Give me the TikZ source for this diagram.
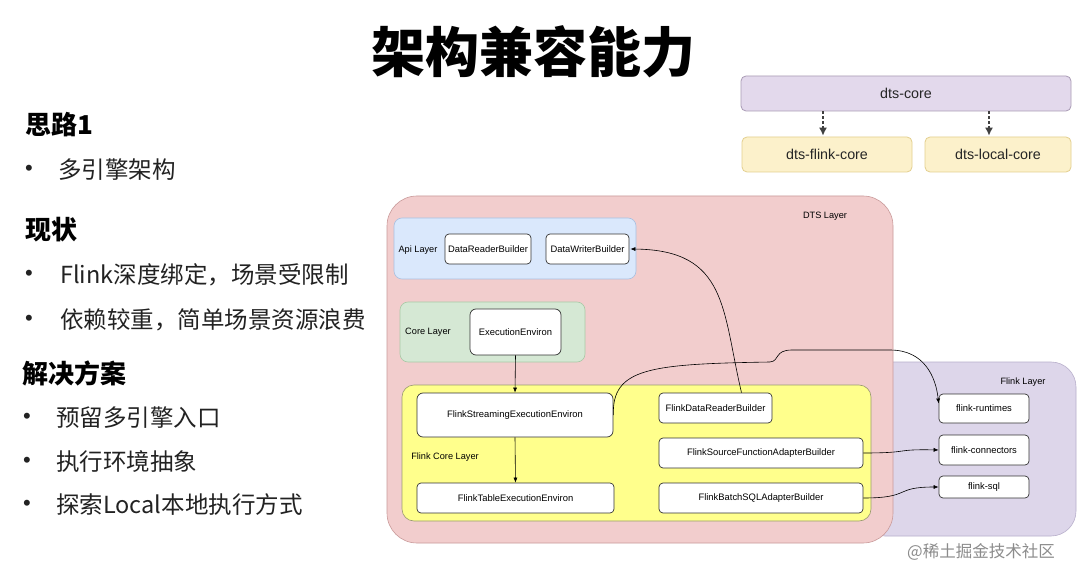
\documentclass[tikz,border=0pt]{standalone}
\usepackage{fontspec}
\setmainfont{Liberation Sans}
\newfontfamily\cjk{Noto Sans CJK SC}
\usetikzlibrary{arrows.meta}
\definecolor{dtsfill}{HTML}{F2CDCD}
\definecolor{dtsdraw}{HTML}{C99A9A}
\definecolor{flfill}{HTML}{DDD6EA}
\definecolor{fldraw}{HTML}{B8AFCB}
\definecolor{apifill}{HTML}{DAE8FC}
\definecolor{apidraw}{HTML}{A9C0E0}
\definecolor{corefill}{HTML}{D5E8D4}
\definecolor{coredraw}{HTML}{A9C9A6}
\definecolor{fcfill}{HTML}{FFFF8C}
\definecolor{fcdraw}{HTML}{9A9A70}
\definecolor{topfill}{HTML}{E3D9EC}
\definecolor{topdraw}{HTML}{A99BB5}
\definecolor{ylfill}{HTML}{FCF1CB}
\definecolor{yldraw}{HTML}{E3CF8F}
\definecolor{txt}{HTML}{222222}
\tikzset{
  layer/.style={draw, line width=0.6pt, inner sep=0pt},
  wbox/.style={draw=black!80, fill=white, line width=0.7pt, rounded corners=4pt, inner sep=0pt, font=\fontsize{9.4}{11}\selectfont},
  lbl/.style={inner sep=0pt, font=\fontsize{9.2}{11}\selectfont},
  topbox/.style={draw=topdraw, fill=topfill, line width=0.8pt, rounded corners=5pt, inner sep=0pt, font=\fontsize{14.3}{16}\selectfont, text=black!85},
  ybox/.style={draw=yldraw, fill=ylfill, line width=0.8pt, rounded corners=5pt, inner sep=0pt, font=\fontsize{14.3}{16}\selectfont, text=black!85},
  conn/.style={line width=0.6pt, -{Latex[length=5pt,width=4pt]}},
  dconn/.style={line width=1.3pt, draw=black!75, dash pattern=on 3pt off 2pt, -{Latex[length=8pt,width=8pt]}},
  heading/.style={anchor=west, inner sep=0pt, font=\cjk\bfseries\fontsize{26}{30}\selectfont, text=black},
  bul/.style={anchor=west, inner sep=0pt, font=\cjk\fontsize{23.5}{28}\selectfont, text=txt},
  dot/.style={inner sep=0pt, font=\fontsize{22}{24}\selectfont, text=txt},
}
\begin{document}
\begin{tikzpicture}[x=1pt,y=-1pt]
\useasboundingbox[fill=white] (0,0) rectangle (1080,580);

% title
\node[inner sep=0pt, font=\cjk\bfseries\fontsize{54}{60}\selectfont] (title) at (533,52) {架构兼容能力};

% left text
\node[heading] (h1) at (25,125) {思路1};
\node[dot] (d1) at (29,170) {•};
\node[bul] (t1) at (58,170) {多引擎架构};
\node[heading] (h2) at (25,230) {现状};
\node[dot] (d2) at (29,275) {•};
\node[bul] (t2) at (60,275) {Flink深度绑定，场景受限制};
\node[dot] (d3) at (29,320) {•};
\node[bul] (t3) at (60,320) {依赖较重，简单场景资源浪费};
\node[heading] (h3) at (22,373) {解决方案};
\node[dot] (d4) at (27,418) {•};
\node[bul] (t4) at (56,418) {预留多引擎入口};
\node[dot] (d5) at (27,462) {•};
\node[bul] (t5) at (56,462) {执行环境抽象};
\node[dot] (d6) at (27,505) {•};
\node[bul] (t6) at (56,505) {探索Local本地执行方式};

% top right
\node[topbox, minimum width=330pt, minimum height=35pt] (dtscore) at (906,93.5) {dts-core};
\node[ybox, minimum width=170pt, minimum height=35pt] (dtsflink) at (827,154.5) {dts-flink-core};
\node[ybox, minimum width=146pt, minimum height=35pt] (dtslocal) at (998,154.5) {dts-local-core};
\draw[dconn] ([xshift=-4pt]dtsflink.north |- dtscore.south) -- ([xshift=-4pt,yshift=1pt]dtsflink.north);
\draw[dconn] ([xshift=-9pt]dtslocal.north |- dtscore.south) -- ([xshift=-9pt,yshift=1pt]dtslocal.north);

% layers
\node[layer, draw=fldraw, fill=flfill, rounded corners=25pt, minimum width=216pt, minimum height=174pt] (fl) at (968,449) {};
\node[layer, draw=dtsdraw, fill=dtsfill, rounded corners=30pt, minimum width=506pt, minimum height=347pt] (dts) at (640,369.5) {};
\node[lbl] (dtsl) at (825,216) {DTS Layer};
\node[lbl] (fll) at (1023,382) {Flink Layer};

\node[layer, draw=apidraw, fill=apifill, rounded corners=8pt, minimum width=242pt, minimum height=61pt] (api) at (515,248.5) {};
\node[lbl] (apil) at (418,250) {Api Layer};
\node[wbox, minimum width=86pt, minimum height=30pt] (drb) at (488,249) {DataReaderBuilder};
\node[wbox, minimum width=83pt, minimum height=30pt] (dwb) at (587.5,249) {DataWriterBuilder};

\node[layer, draw=coredraw, fill=corefill, rounded corners=8pt, minimum width=185pt, minimum height=60pt] (core) at (492.5,332) {};
\node[lbl] (corel) at (428,332) {Core Layer};
\node[wbox, minimum width=91pt, minimum height=46pt, rounded corners=6pt] (ee) at (515.5,332) {ExecutionEnviron};

\node[layer, draw=fcdraw, fill=fcfill, rounded corners=12pt, minimum width=469pt, minimum height=136pt] (fc) at (636.5,453) {};
\node[lbl] (fcl) at (445,457) {Flink Core Layer};
\node[wbox, minimum width=196pt, minimum height=44pt, rounded corners=6pt] (fse) at (515,415) {FlinkStreamingExecutionEnviron};
\node[wbox, minimum width=197pt, minimum height=30pt] (fte) at (515.5,498) {FlinkTableExecutionEnviron};
\node[wbox, minimum width=113pt, minimum height=30pt] (fdrb) at (715.5,408) {FlinkDataReaderBuilder};
\node[wbox, minimum width=204pt, minimum height=30pt] (fsfab) at (761,453) {FlinkSourceFunctionAdapterBuilder};
\node[wbox, minimum width=204pt, minimum height=30pt] (fbsab) at (761,498) {FlinkBatchSQLAdapterBuilder};

\node[wbox, minimum width=90pt, minimum height=29pt] (frt) at (984,408.5) {flink-runtimes};
\node[wbox, minimum width=90pt, minimum height=30pt] (fcn) at (984,450) {flink-connectors};
\node[wbox, minimum width=90pt, minimum height=22pt] (fsql) at (984,487) {flink-sql};

% connectors
\draw[conn] (ee.south) -- (fse.north);
\draw[conn] (fse.south) -- (fte.north);
\draw[conn] ([xshift=26pt]fdrb.north) .. controls (722,310) and (728,250) .. ([xshift=1pt]dwb.east);
\draw[conn] (fse.east) .. controls (612,368) and (650,364) .. (770,362) .. controls (780,361) and (774,350) .. (792,350) -- (890,350) .. controls (925,350) and (936,378) .. ([yshift=5pt]frt.west);
\draw[conn] (fsfab.east) .. controls (912,453) and (893,449) .. (fcn.west);
\draw[conn] (fbsab.east) .. controls (912,498) and (893,487) .. (fsql.west);

% watermark
\node[inner sep=0pt, font=\cjk\fontsize{16.5}{20}\selectfont, text=black!45] (wm) at (981,552) {@稀土掘金技术社区};
\end{tikzpicture}
\end{document}
